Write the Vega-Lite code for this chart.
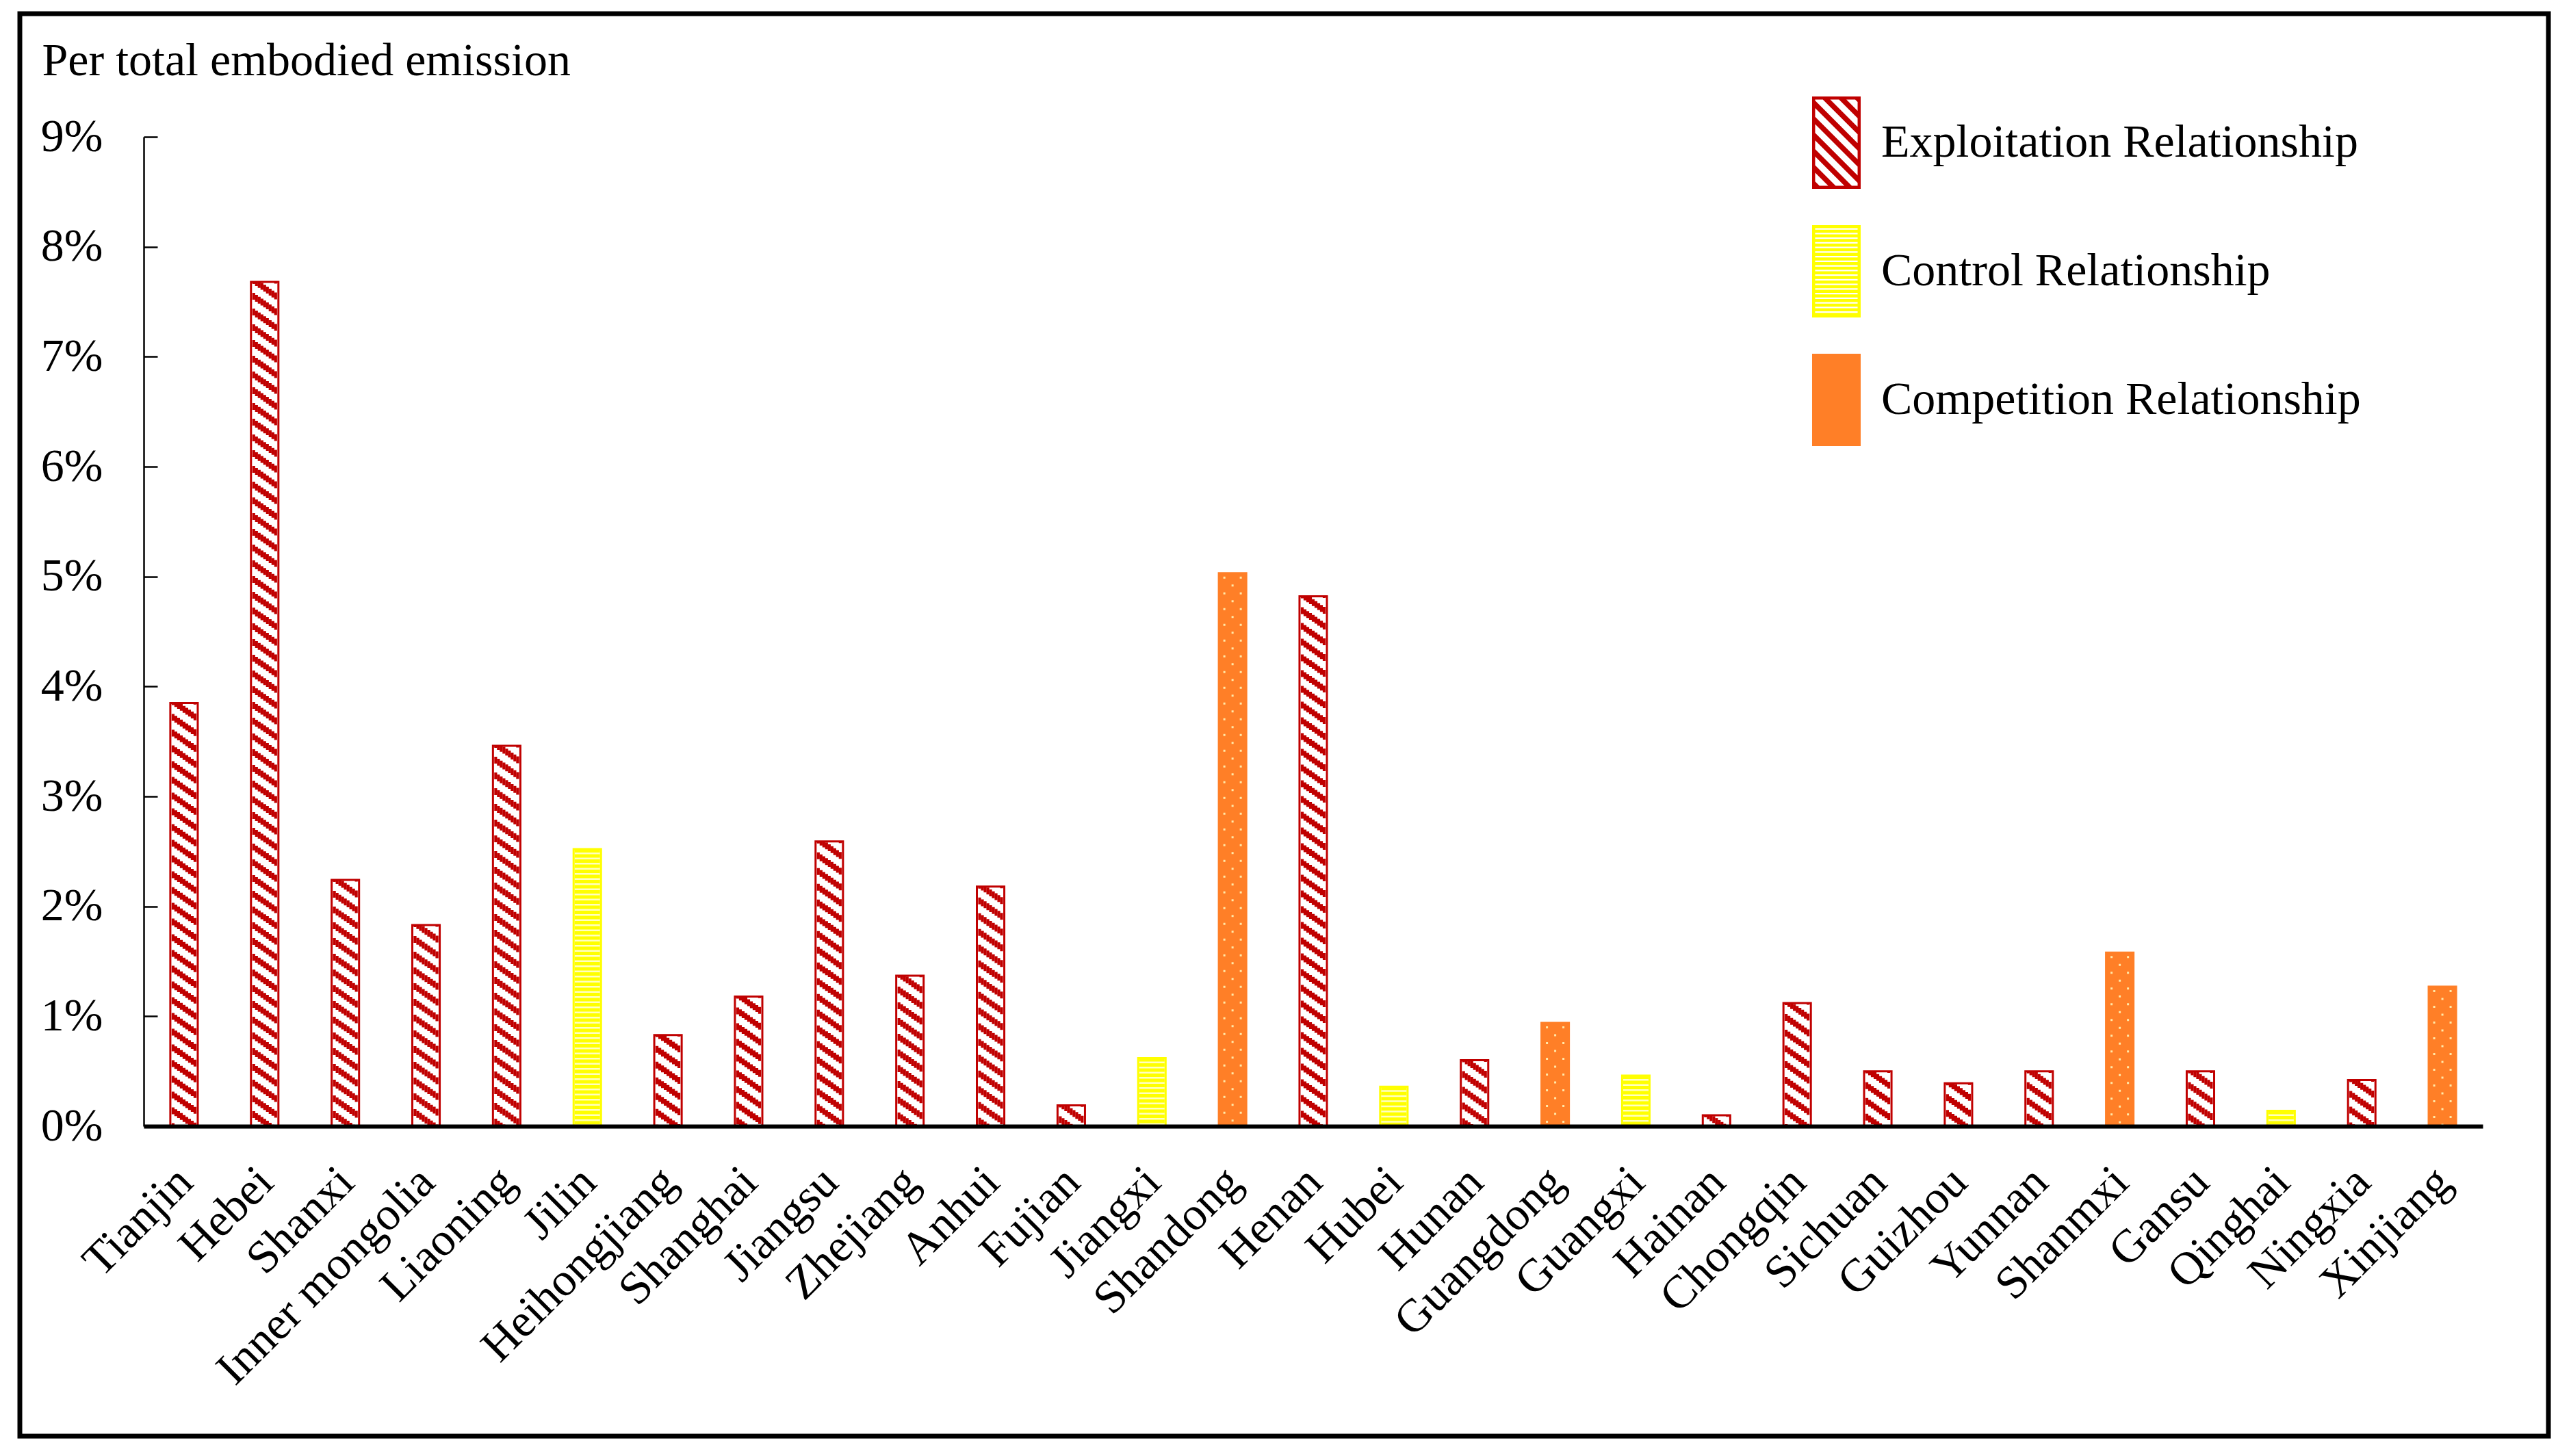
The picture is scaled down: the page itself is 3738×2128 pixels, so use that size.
{
  "$schema": "https://vega.github.io/schema/vega-lite/v6.json",
  "width": 3695,
  "height": 2079,
  "autosize": {"type": "none"},
  "padding": {"left": 29, "top": 20, "right": 14, "bottom": 29},
  "background": "white",
  "config": {
    "font": "Liberation Serif",
    "view": {"stroke": "black", "strokeWidth": 7, "fill": "white"},
    "axis": {"grid": false, "labelColor": "black", "titleColor": "black", "labelFont": "Liberation Serif", "titleFont": "Liberation Serif"}
  },
  "data": {
    "values": [
      {"province": "Tianjin", "share": 0.0385, "rel": "Exploitation Relationship"},
      {"province": "Hebei", "share": 0.0768, "rel": "Exploitation Relationship"},
      {"province": "Shanxi", "share": 0.0224, "rel": "Exploitation Relationship"},
      {"province": "Inner mongolia", "share": 0.0183, "rel": "Exploitation Relationship"},
      {"province": "Liaoning", "share": 0.0346, "rel": "Exploitation Relationship"},
      {"province": "Jilin", "share": 0.0252, "rel": "Control Relationship"},
      {"province": "Heihongjiang", "share": 0.0083, "rel": "Exploitation Relationship"},
      {"province": "Shanghai", "share": 0.0118, "rel": "Exploitation Relationship"},
      {"province": "Jiangsu", "share": 0.0259, "rel": "Exploitation Relationship"},
      {"province": "Zhejiang", "share": 0.0137, "rel": "Exploitation Relationship"},
      {"province": "Anhui", "share": 0.0218, "rel": "Exploitation Relationship"},
      {"province": "Fujian", "share": 0.0019, "rel": "Exploitation Relationship"},
      {"province": "Jiangxi", "share": 0.0062, "rel": "Control Relationship"},
      {"province": "Shandong", "share": 0.0503, "rel": "Competition Relationship"},
      {"province": "Henan", "share": 0.0482, "rel": "Exploitation Relationship"},
      {"province": "Hubei", "share": 0.0036, "rel": "Control Relationship"},
      {"province": "Hunan", "share": 0.0060, "rel": "Exploitation Relationship"},
      {"province": "Guangdong", "share": 0.0094, "rel": "Competition Relationship"},
      {"province": "Guangxi", "share": 0.0046, "rel": "Control Relationship"},
      {"province": "Hainan", "share": 0.0010, "rel": "Exploitation Relationship"},
      {"province": "Chongqin", "share": 0.0112, "rel": "Exploitation Relationship"},
      {"province": "Sichuan", "share": 0.0050, "rel": "Exploitation Relationship"},
      {"province": "Guizhou", "share": 0.0039, "rel": "Exploitation Relationship"},
      {"province": "Yunnan", "share": 0.0050, "rel": "Exploitation Relationship"},
      {"province": "Shanmxi", "share": 0.0158, "rel": "Competition Relationship"},
      {"province": "Gansu", "share": 0.0050, "rel": "Exploitation Relationship"},
      {"province": "Qinghai", "share": 0.0014, "rel": "Control Relationship"},
      {"province": "Ningxia", "share": 0.0042, "rel": "Exploitation Relationship"},
      {"province": "Xinjiang", "share": 0.0127, "rel": "Competition Relationship"}
    ]
  },
  "encoding": {
    "x": {
      "field": "province", "type": "nominal", "sort": null,
      "scale": {"range": [181, 3599], "paddingInner": 0.66, "paddingOuter": 0.33},
      "axis": {
        "title": null, "orient": "bottom", "offset": -453, "ticks": false,
        "domainColor": "black", "domainWidth": 6, "domainCap": "butt",
        "labelAngle": -45, "labelAlign": "right", "labelBaseline": "top",
        "labelFontSize": 68, "labelPadding": 47, "labelOffset": -22, "labelOverlap": false, "labelLimit": 1000, "zindex": 2
      }
    },
    "y": {
      "field": "share", "type": "quantitative",
      "scale": {"domain": [0, 0.09], "range": [1626, 180], "nice": false, "zero": true},
      "axis": {
        "title": "Per total embodied emission", "orient": "left", "offset": -181,
        "values": [0, 0.01, 0.02, 0.03, 0.04, 0.05, 0.06, 0.07, 0.08, 0.09],
        "format": ".0%", "labelFontSize": 68, "labelFlush": false, "labelOverlap": false,
        "tickSize": -20, "tickWidth": 2.5, "tickColor": "black",
        "domainColor": "black", "domainWidth": 2.5, "labelPadding": 80,
        "titleAngle": 0, "titleAlign": "left", "titleBaseline": "alphabetic",
        "titleX": -149, "titleY": 89, "titleFontSize": 68, "titleFontWeight": "normal", "zindex": 2
      }
    }
  },
  "layer": [
    {
      "mark": {"type": "bar", "strokeWidth": 3},
      "encoding": {
        "fill": {
          "condition": [
            {"test": "datum.rel === 'Control Relationship'", "value": "#FFFFC0"},
            {"test": "datum.rel === 'Competition Relationship'", "value": "#FF7F27"}
          ],
          "value": "#FFFFFF"
        },
        "stroke": {
          "condition": [
            {"test": "datum.rel === 'Control Relationship'", "value": "#FFFF00"},
            {"test": "datum.rel === 'Competition Relationship'", "value": "#FF7F27"}
          ],
          "value": "#C00000"
        }
      }
    },
    {
      "transform": [{"filter": "datum.rel === 'Exploitation Relationship'"}],
      "mark": {"type": "rule", "stroke": "#C00000", "strokeWidth": 4.2, "strokeDash": [10, 13], "strokeDashOffset": 30, "xOffset": -16, "strokeCap": "butt"},
      "encoding": {"y2": {"datum": 0}}
    },
    {
      "transform": [{"filter": "datum.rel === 'Exploitation Relationship'"}],
      "mark": {"type": "rule", "stroke": "#C00000", "strokeWidth": 4.2, "strokeDash": [10, 13], "strokeDashOffset": 27.2, "xOffset": -12, "strokeCap": "butt"},
      "encoding": {"y2": {"datum": 0}}
    },
    {
      "transform": [{"filter": "datum.rel === 'Exploitation Relationship'"}],
      "mark": {"type": "rule", "stroke": "#C00000", "strokeWidth": 4.2, "strokeDash": [10, 13], "strokeDashOffset": 24.4, "xOffset": -8, "strokeCap": "butt"},
      "encoding": {"y2": {"datum": 0}}
    },
    {
      "transform": [{"filter": "datum.rel === 'Exploitation Relationship'"}],
      "mark": {"type": "rule", "stroke": "#C00000", "strokeWidth": 4.2, "strokeDash": [10, 13], "strokeDashOffset": 21.6, "xOffset": -4, "strokeCap": "butt"},
      "encoding": {"y2": {"datum": 0}}
    },
    {
      "transform": [{"filter": "datum.rel === 'Exploitation Relationship'"}],
      "mark": {"type": "rule", "stroke": "#C00000", "strokeWidth": 4.2, "strokeDash": [10, 13], "strokeDashOffset": 18.8, "xOffset": 0, "strokeCap": "butt"},
      "encoding": {"y2": {"datum": 0}}
    },
    {
      "transform": [{"filter": "datum.rel === 'Exploitation Relationship'"}],
      "mark": {"type": "rule", "stroke": "#C00000", "strokeWidth": 4.2, "strokeDash": [10, 13], "strokeDashOffset": 16, "xOffset": 4, "strokeCap": "butt"},
      "encoding": {"y2": {"datum": 0}}
    },
    {
      "transform": [{"filter": "datum.rel === 'Exploitation Relationship'"}],
      "mark": {"type": "rule", "stroke": "#C00000", "strokeWidth": 4.2, "strokeDash": [10, 13], "strokeDashOffset": 13.2, "xOffset": 8, "strokeCap": "butt"},
      "encoding": {"y2": {"datum": 0}}
    },
    {
      "transform": [{"filter": "datum.rel === 'Exploitation Relationship'"}],
      "mark": {"type": "rule", "stroke": "#C00000", "strokeWidth": 4.2, "strokeDash": [10, 13], "strokeDashOffset": 10.4, "xOffset": 12, "strokeCap": "butt"},
      "encoding": {"y2": {"datum": 0}}
    },
    {
      "transform": [{"filter": "datum.rel === 'Exploitation Relationship'"}],
      "mark": {"type": "rule", "stroke": "#C00000", "strokeWidth": 4.2, "strokeDash": [10, 13], "strokeDashOffset": 7.6, "xOffset": 16, "strokeCap": "butt"},
      "encoding": {"y2": {"datum": 0}}
    },
    {
      "transform": [{"filter": "datum.rel === 'Control Relationship'"}],
      "mark": {"type": "rule", "stroke": "#FFFF00", "strokeWidth": 37, "strokeDash": [5, 2.5], "strokeCap": "butt"},
      "encoding": {"y2": {"datum": 0}}
    },
    {
      "transform": [{"filter": "datum.rel === 'Competition Relationship'"}],
      "mark": {"type": "rule", "stroke": "#FFE8A8", "strokeWidth": 3, "strokeDash": [3, 20], "strokeDashOffset": 18, "xOffset": -12, "strokeCap": "butt"},
      "encoding": {"y2": {"datum": 0}}
    },
    {
      "transform": [{"filter": "datum.rel === 'Competition Relationship'"}],
      "mark": {"type": "rule", "stroke": "#FFE8A8", "strokeWidth": 3, "strokeDash": [3, 20], "strokeDashOffset": 18, "xOffset": 12, "strokeCap": "butt"},
      "encoding": {"y2": {"datum": 0}}
    },
    {
      "transform": [{"filter": "datum.rel === 'Competition Relationship'"}],
      "mark": {"type": "rule", "stroke": "#FFE8A8", "strokeWidth": 3, "strokeDash": [3, 20], "strokeDashOffset": 6.5, "strokeCap": "butt"},
      "encoding": {"y2": {"datum": 0}}
    },
    {
      "mark": {"type": "point", "filled": true, "opacity": 0},
      "encoding": {
        "fill": {
          "field": "rel", "type": "nominal",
          "scale": {"domain": ["Exploitation Relationship", "Control Relationship", "Competition Relationship"], "range": ["#C00000", "#FFFF00", "#FF7F27"]},
          "legend": {
            "title": null, "orient": "none", "legendX": 2587, "legendY": 121,
            "symbolSize": 18225, "symbolOpacity": 1, "symbolStrokeWidth": 0,
            "labelFontSize": 68, "labelFont": "Liberation Serif", "labelColor": "black",
            "labelOffset": -2, "labelBaseline": "middle", "rowPadding": 53, "padding": 0, "labelLimit": 2000
          }
        },
        "shape": {
          "field": "rel", "type": "nominal",
          "scale": {
            "domain": ["Exploitation Relationship", "Control Relationship", "Competition Relationship"],
            "range": [
              "M-0.526,-1H0.526V1H-0.526Z M-0.46,-0.933V0.933H0.46V-0.933Z M0.34,-1L0.5,-1L0.526,-0.974L0.526,-0.814Z M-0.01,-1L0.15,-1L0.526,-0.624L0.526,-0.464Z M-0.36,-1L-0.2,-1L0.526,-0.274L0.526,-0.114Z M-0.526,-0.976L0.526,0.076L0.526,0.236L-0.526,-0.816Z M-0.526,-0.626L0.526,0.426L0.526,0.586L-0.526,-0.466Z M-0.526,-0.276L0.526,0.776L0.526,0.936L-0.526,-0.116Z M-0.526,0.074L0.4,1L0.24,1L-0.526,0.234Z M-0.526,0.424L0.05,1L-0.11,1L-0.526,0.584Z M-0.526,0.774L-0.3,1L-0.46,1L-0.526,0.934Z",
              "M-0.526,-1H0.526V1H-0.526Z M-0.46,-0.96V0.96H0.46V-0.96Z M-0.526,-1H0.526V-0.935H-0.526Z M-0.526,-0.9H0.526V-0.835H-0.526Z M-0.526,-0.8H0.526V-0.735H-0.526Z M-0.526,-0.7H0.526V-0.635H-0.526Z M-0.526,-0.6H0.526V-0.535H-0.526Z M-0.526,-0.5H0.526V-0.435H-0.526Z M-0.526,-0.4H0.526V-0.335H-0.526Z M-0.526,-0.3H0.526V-0.235H-0.526Z M-0.526,-0.2H0.526V-0.135H-0.526Z M-0.526,-0.1H0.526V-0.035H-0.526Z M-0.526,0H0.526V0.065H-0.526Z M-0.526,0.1H0.526V0.165H-0.526Z M-0.526,0.2H0.526V0.265H-0.526Z M-0.526,0.3H0.526V0.365H-0.526Z M-0.526,0.4H0.526V0.465H-0.526Z M-0.526,0.5H0.526V0.565H-0.526Z M-0.526,0.6H0.526V0.665H-0.526Z M-0.526,0.7H0.526V0.765H-0.526Z M-0.526,0.8H0.526V0.865H-0.526Z M-0.526,0.9H0.526V0.965H-0.526Z",
              "M-0.526,-1H0.526V1H-0.526Z"
            ]
          },
          "legend": {
            "title": null, "orient": "none", "legendX": 2587, "legendY": 121,
            "symbolSize": 18225, "symbolOpacity": 1, "symbolStrokeWidth": 0,
            "labelFontSize": 68, "labelFont": "Liberation Serif", "labelColor": "black",
            "labelOffset": -2, "labelBaseline": "middle", "rowPadding": 53, "padding": 0, "labelLimit": 2000
          }
        }
      }
    }
  ]
}
